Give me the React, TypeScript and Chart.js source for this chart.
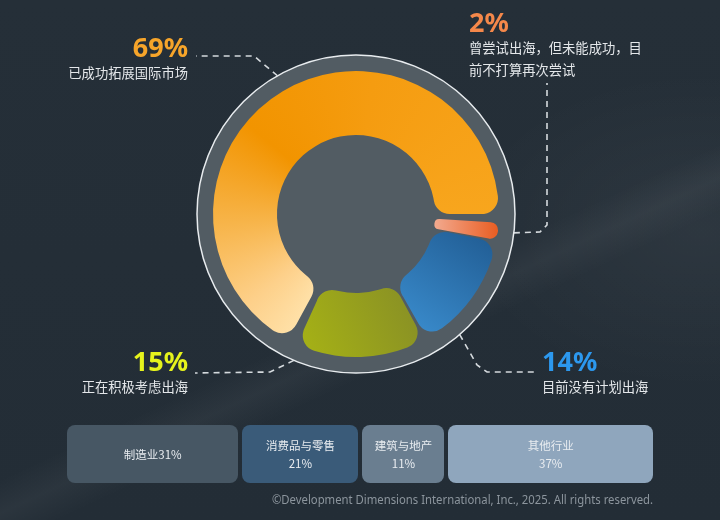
import React, { useEffect, useRef } from 'react';
import { Chart, registerables } from 'chart.js';

Chart.register(...registerables);

// ---- data ----
const segmentLabels = ['已成功拓展国际市场', '曾尝试出海，但未能成功，目前不打算再次尝试', '目前没有计划出海', '正在积极考虑出海'];
const segmentValues = [69, 2, 14, 15];
const segmentTextColors = ['#F7A52A', '#F5884A', '#2C98EE', '#E6F31C'];
const segmentBaseColors = ['#F59C12', '#EC6A30', '#2A6EA8', '#98A01E'];

const industryNames = ['制造业', '消费品与零售', '建筑与地产', '其他行业'];
const industryValues = [31, 21, 11, 37];
const industryColors = ['#475764', '#3A5B79', '#6A7E90', '#8FA6BD'];
const industrySingleLine = [true, false, false, false];

const copyright = '©Development Dimensions International, Inc., 2025. All rights reserved.';

// ---- layout / style ----
const ROTATION = 205;
const SPACING = 6;
const RING_GAP = 16;
const RING_FILL = '#525C63';

const labelLayout = [
  { align: 'right', x: 188, top: 32, width: 220 },
  { align: 'left', x: 469, top: 7, width: 178 },
  { align: 'left', x: 542, top: 346, width: 170 },
  { align: 'right', x: 188, top: 346, width: 220 },
];

const leaderLayout = [
  { angle: -29.6, points: [[254, 56], [196, 56]] },
  { angle: 96.8, points: [[540, 232], [547, 225], [547, 83]] },
  { angle: 139.3, points: [[477, 365], [487, 372], [535, 372]] },
  { angle: 203, points: [[270, 372], [195, 373]] },
];

function segmentFill(c: any) {
  const chart = c.chart;
  const area = chart.chartArea;
  const i = c.dataIndex;
  if (!area) return segmentBaseColors[i];
  const g = chart.ctx as CanvasRenderingContext2D;
  const cx = (area.left + area.right) / 2;
  const cy = (area.top + area.bottom) / 2;
  const r = Math.min(area.width, area.height) / 2;
  if (i === 0) {
    const grad = (g as any).createConicGradient(((ROTATION - 90) * Math.PI) / 180, cx, cy);
    grad.addColorStop(0, '#FFE3AC');
    grad.addColorStop(0.07, '#FDD08A');
    grad.addColorStop(0.17, '#F7B449');
    grad.addColorStop(0.29, '#F29400');
    grad.addColorStop(0.45, '#F59C10');
    grad.addColorStop(0.69, '#F8A61E');
    grad.addColorStop(1, '#FFE3AC');
    return grad;
  }
  if (i === 1) {
    const grad = g.createLinearGradient(cx + r * 0.55, cy, cx + r, cy);
    grad.addColorStop(0, '#F2A98E');
    grad.addColorStop(1, '#EA5C20');
    return grad;
  }
  if (i === 2) {
    const grad = g.createLinearGradient(cx + r * 0.9, cy + r * 0.12, cx + r * 0.4, cy + r * 0.85);
    grad.addColorStop(0, '#215D94');
    grad.addColorStop(1, '#3A8CCD');
    return grad;
  }
  const grad = g.createLinearGradient(cx - r * 0.45, cy + r * 0.95, cx + r * 0.45, cy + r * 0.55);
  grad.addColorStop(0, '#A8B414');
  grad.addColorStop(1, '#878E26');
  return grad;
}

const ringPlugin = {
  id: 'ringPlugin',
  beforeDatasetsDraw(chart: any) {
    const arc = chart.getDatasetMeta(0).data[0];
    if (!arc) return;
    const { x, y, outerRadius } = arc.getProps(['x', 'y', 'outerRadius'], true);
    const R = outerRadius + SPACING / 2 + RING_GAP;
    const ctx = chart.ctx as CanvasRenderingContext2D;
    ctx.save();
    // leader lines
    ctx.setLineDash([6, 5]);
    ctx.lineWidth = 1.6;
    ctx.strokeStyle = 'rgba(232,236,239,0.9)';
    leaderLayout.forEach((l) => {
      const a = (l.angle * Math.PI) / 180;
      ctx.beginPath();
      ctx.moveTo(x + R * Math.sin(a), y - R * Math.cos(a));
      l.points.forEach((p) => ctx.lineTo(p[0], p[1]));
      ctx.stroke();
    });
    ctx.setLineDash([]);
    // ring disc
    ctx.beginPath();
    ctx.arc(x, y, R, 0, Math.PI * 2);
    ctx.fillStyle = RING_FILL;
    ctx.fill();
    ctx.lineWidth = 1.5;
    ctx.strokeStyle = '#E8ECEF';
    ctx.stroke();
    ctx.restore();
  },
};

export default function App() {
  const canvasRef = useRef<HTMLCanvasElement>(null);

  useEffect(() => {
    document.body.style.margin = '0';
    const canvas = canvasRef.current;
    if (!canvas) return;
    const chart = new Chart(canvas, {
      type: 'doughnut',
      data: {
        labels: segmentLabels,
        datasets: [
          {
            data: segmentValues,
            backgroundColor: segmentFill as any,
            borderWidth: 0,
            hoverBorderWidth: 0,
            borderRadius: 16,
            spacing: SPACING,
          } as any,
        ],
      },
      options: {
        responsive: false,
        animation: false,
        events: [],
        rotation: ROTATION,
        cutout: '54.3%',
        layout: { padding: { left: 213, top: 71, right: 221, bottom: 163 } },
        plugins: { legend: { display: false }, tooltip: { enabled: false } },
      } as any,
      plugins: [ringPlugin as any],
    });
    return () => chart.destroy();
  }, []);

  const cjk = '"Noto Sans CJK SC", "Noto Sans", sans-serif';

  return (
    <div
      style={{
        position: 'absolute',
        left: 0,
        top: 0,
        width: 720,
        height: 520,
        overflow: 'hidden',
        background:
          'radial-gradient(ellipse 240px 160px at 700px 230px, rgba(255,255,255,0.045), rgba(255,255,255,0) 100%),' +
          'linear-gradient(155deg, rgba(255,255,255,0) 56%, rgba(255,255,255,0.04) 60%, rgba(255,255,255,0) 64%),' +
          'linear-gradient(180deg, #252F38 0%, #232D36 100%)',
        fontFamily: cjk,
      }}
    >
      <canvas ref={canvasRef} width={720} height={520} style={{ position: 'absolute', left: 0, top: 0 }} />
      {segmentLabels.map((label, i) => {
        const l = labelLayout[i];
        const style: any = {
          position: 'absolute',
          top: l.top,
          width: l.width,
          textAlign: l.align,
        };
        if (l.align === 'right') style.left = l.x - l.width;
        else style.left = l.x;
        return (
          <div key={i} style={style}>
            <div
              style={{
                fontFamily: '"Noto Sans", sans-serif',
                fontWeight: 700,
                fontSize: 27,
                lineHeight: '30px',
                color: segmentTextColors[i],
              }}
            >
              {segmentValues[i]}%
            </div>
            <div style={{ fontSize: 13.3, lineHeight: '22px', color: '#E4E7EA' }}>{label}</div>
          </div>
        );
      })}
      <div
        style={{
          position: 'absolute',
          left: 67,
          top: 425,
          width: 586,
          height: 58,
          display: 'flex',
          gap: 4,
        }}
      >
        {industryNames.map((name, i) => (
          <div
            key={i}
            style={{
              flex: `${industryValues[i]} 1 0px`,
              minWidth: 82,
              borderRadius: 8,
              background: industryColors[i],
              display: 'flex',
              flexDirection: 'column',
              justifyContent: 'center',
              alignItems: 'center',
              color: '#E8ECF0',
              fontSize: 11.5,
              lineHeight: '18px',
            }}
          >
            {industrySingleLine[i] ? (
              <div>{name + industryValues[i] + '%'}</div>
            ) : (
              <>
                <div>{name}</div>
                <div>{industryValues[i]}%</div>
              </>
            )}
          </div>
        ))}
      </div>
      <div
        style={{
          position: 'absolute',
          right: 67,
          top: 489,
          fontFamily: '"Noto Sans", sans-serif',
          fontSize: 13,
          lineHeight: '20px',
          color: '#8C959D',
          whiteSpace: 'nowrap',
          transform: 'scaleX(0.87)',
          transformOrigin: 'right center',
        }}
      >
        {copyright}
      </div>
    </div>
  );
}
